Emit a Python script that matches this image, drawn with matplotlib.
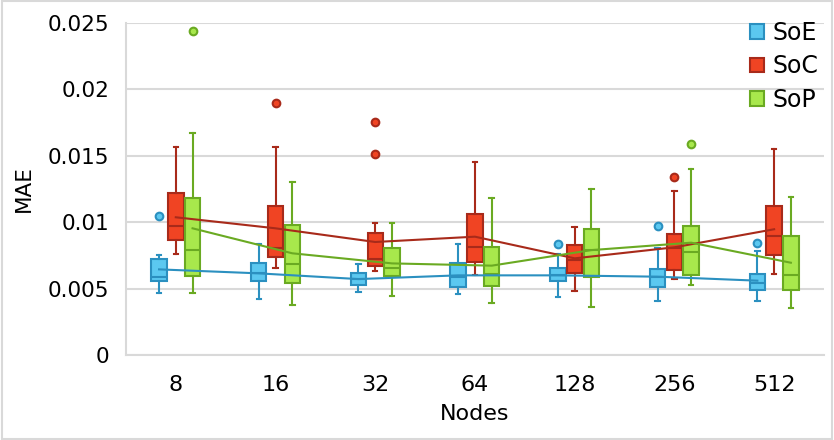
import matplotlib
matplotlib.use('Agg')
import matplotlib.pyplot as plt
from matplotlib.patches import Patch, Rectangle

# data
nodes = ['8', '16', '32', '64', '128', '256', '512']
series = ['SoE', 'SoC', 'SoP']

soe_lo = [0.00469, 0.00424, 0.00474, 0.00459, 0.00439, 0.00404, 0.00409]
soe_q1 = [0.00560, 0.00560, 0.00525, 0.00510, 0.00555, 0.00514, 0.00490]
soe_med = [0.00590, 0.00620, 0.00570, 0.00585, 0.00600, 0.00590, 0.00545]
soe_q3 = [0.00721, 0.00690, 0.00620, 0.00690, 0.00653, 0.00650, 0.00608]
soe_hi = [0.00753, 0.00833, 0.00683, 0.00838, 0.00758, 0.00803, 0.00783]
soe_mean = [0.00645, 0.00615, 0.00572, 0.00600, 0.00600, 0.00590, 0.00560]
soe_out = [[0.01049], [], [], [], [0.00833], [0.00971], [0.00843]]

soc_lo = [0.00758, 0.00655, 0.00633, 0.00600, 0.00484, 0.00575, 0.00608]
soc_q1 = [0.00866, 0.00735, 0.00670, 0.00700, 0.00620, 0.00640, 0.00751]
soc_med = [0.00974, 0.00806, 0.00725, 0.00815, 0.00715, 0.00803, 0.00898]
soc_q3 = [0.01217, 0.01122, 0.00916, 0.01059, 0.00826, 0.00909, 0.01122]
soc_hi = [0.01569, 0.01569, 0.00991, 0.01453, 0.00966, 0.01235, 0.01551]
soc_mean = [0.01037, 0.00954, 0.00851, 0.00891, 0.00728, 0.00811, 0.00947]
soc_out = [[], [0.01895], [0.01755, 0.01511], [], [], [0.01340], []]

sop_lo = [0.00464, 0.00374, 0.00442, 0.00394, 0.00364, 0.00525, 0.00354]
sop_q1 = [0.00595, 0.00545, 0.00592, 0.00520, 0.00590, 0.00600, 0.00487]
sop_med = [0.00788, 0.00683, 0.00658, 0.00607, 0.00791, 0.00778, 0.00605]
sop_q3 = [0.01180, 0.00979, 0.00803, 0.00815, 0.00949, 0.00971, 0.00896]
sop_hi = [0.01674, 0.01303, 0.00996, 0.01182, 0.01248, 0.01398, 0.01192]
sop_mean = [0.00954, 0.00766, 0.00690, 0.00673, 0.00790, 0.00846, 0.00695]
sop_out = [[0.02437], [], [], [], [], [0.01591], []]

face = ['#5bc8f0', '#f04423', '#a8e84c']
edge = ['#2b90c0', '#a82a1a', '#6aaa22']

plt.rcParams['font.family'] = ['DejaVu Sans']

fig = plt.figure(figsize=(8.34, 4.40), dpi=100)
ax = fig.add_axes([0.151, 0.193, 0.837, 0.755])

all_stats = [
    (soe_lo, soe_q1, soe_med, soe_q3, soe_hi, soe_mean, soe_out),
    (soc_lo, soc_q1, soc_med, soc_q3, soc_hi, soc_mean, soc_out),
    (sop_lo, sop_q1, sop_med, sop_q3, sop_hi, sop_mean, sop_out),
]
offsets = [-0.168, 0.0, 0.168]
width = 0.155

for k, (lo, q1, med, q3, hi, mean, out) in enumerate(all_stats):
    stats = []
    for i in range(len(nodes)):
        stats.append(dict(whislo=lo[i], q1=q1[i], med=med[i], q3=q3[i],
                          whishi=hi[i], fliers=out[i], mean=mean[i]))
    pos = [i + offsets[k] for i in range(len(nodes))]
    ax.bxp(stats, positions=pos, widths=width, capwidths=0.045,
           patch_artist=True, showmeans=False, manage_ticks=False,
           boxprops=dict(facecolor=face[k], edgecolor=edge[k], linewidth=1.5),
           medianprops=dict(color=edge[k], linewidth=1.5),
           whiskerprops=dict(color=edge[k], linewidth=1.5),
           capprops=dict(color=edge[k], linewidth=1.5),
           flierprops=dict(marker='o', markersize=5.5, markerfacecolor=face[k],
                           markeredgecolor=edge[k], markeredgewidth=1.5))
    ax.plot(pos, mean, color=edge[k], linewidth=1.5, zorder=4)

ax.set_xlim(-0.5, len(nodes) - 0.5)
ax.set_ylim(0, 0.025)
ax.set_yticks([0, 0.005, 0.01, 0.015, 0.02, 0.025])
ax.set_yticklabels(['0', '0.005', '0.01', '0.015', '0.02', '0.025'])
ax.set_xticks(range(len(nodes)))
ax.set_xticklabels(nodes)
ax.tick_params(axis='y', labelsize=15.5, length=0, pad=12)
ax.tick_params(axis='x', labelsize=16, length=0, pad=14)
ax.yaxis.grid(True, color='#d9d9d9', linewidth=1.5)
ax.set_axisbelow(True)
for s in ['top', 'right']:
    ax.spines[s].set_visible(False)
for s in ['left', 'bottom']:
    ax.spines[s].set_color('#d9d9d9')
    ax.spines[s].set_linewidth(1.5)

ax.set_ylabel('MAE', fontsize=15.5, labelpad=10)
ax.set_xlabel('Nodes', fontsize=16, labelpad=7)

handles = [Patch(facecolor=face[k], edgecolor=edge[k], linewidth=1.5, label=series[k])
           for k in range(3)]
ax.legend(handles=handles, loc='upper right', bbox_to_anchor=(1.022, 1.07),
          frameon=False, fontsize=17, handlelength=0.6, handleheight=0.6,
          handletextpad=0.35, labelspacing=0.4)

fig.patches.append(Rectangle((0.002, 0.003), 0.996, 0.994, transform=fig.transFigure,
                             fill=False, edgecolor='#d9d9d9', linewidth=1.5))

fig.savefig('out.png', dpi=100)
